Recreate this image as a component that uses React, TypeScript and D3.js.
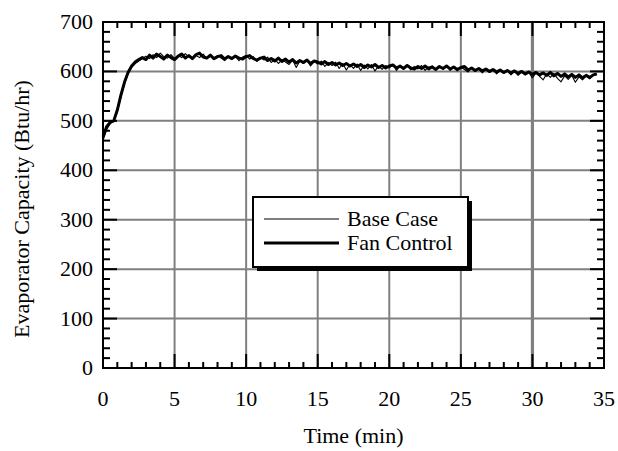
import React from "react";
import * as d3 from "d3";

const STEP = 0.25;
const xTicks = [0, 5, 10, 15, 20, 25, 30, 35];
const yTicks = [0, 100, 200, 300, 400, 500, 600, 700];

const fanControl = [
  468, 488, 497, 500, 522, 552, 578, 598, 611, 619, 624, 628, 624, 633, 627, 635,
  630, 625, 633, 628, 624, 631, 635, 627, 632, 626, 634, 637, 629, 627, 633, 626,
  630, 632, 625, 630, 626, 631, 627, 625, 630, 632, 626, 623, 627, 629, 622, 626,
  621, 627, 620, 625, 619, 624, 617, 622, 618, 623, 616, 621, 619, 615, 620, 614,
  618, 613, 617, 612, 616, 611, 615, 610, 614, 608, 613, 609, 614, 608, 612, 607,
  611, 613, 607, 611, 606, 612, 607, 605, 610, 606, 611, 605, 609, 604, 610, 606,
  611, 605, 609, 604, 608, 610, 603, 607, 602, 606, 601, 605, 600, 604, 599, 603,
  598, 602, 597, 601, 596, 600, 595, 599, 594, 598, 593, 597, 592, 598, 591, 596,
  590, 595, 589, 594, 588, 593, 587, 592, 588, 593, 595
];

const baseCase = [
  460, 482, 494, 502, 518, 548, 575, 596, 608, 616, 621, 626, 631, 626, 634, 628,
  637, 630, 627, 634, 626, 632, 628, 636, 629, 625, 632, 628, 635, 626, 631, 624,
  632, 627, 622, 631, 625, 630, 622, 629, 632, 625, 630, 620, 628, 623, 629, 618,
  625, 616, 624, 619, 614, 623, 608, 621, 616, 622, 611, 620, 615, 621, 610, 618,
  612, 619, 606, 616, 603, 614, 606, 615, 602, 613, 605, 614, 601, 611, 604, 612,
  607, 614, 602, 610, 604, 613, 603, 610, 605, 612, 602, 609, 611, 603, 610, 605,
  612, 602, 608, 601, 609, 604, 599, 607, 600, 605, 597, 604, 598, 603, 595, 602,
  596, 601, 593, 600, 592, 599, 593, 598, 587, 597, 590, 583, 595, 588, 596, 586,
  579, 591, 584, 592, 578, 589, 583, 591, 585, 592, 594
];

const W = 618;
const H = 451;
const left = 103;
const right = 604;
const top = 22;
const bottom = 368;
const FONT = "Liberation Serif, Times New Roman, DejaVu Serif, serif";
const FS = 22;

export default function App() {
  const x = d3.scaleLinear().domain([0, 35]).range([left, right]);
  const y = d3.scaleLinear().domain([0, 700]).range([bottom, top]);
  const line = d3
    .line<number>()
    .x((_, i) => x(i * STEP))
    .y((d) => y(d));

  const xMinor = d3.range(0, 35.01, 1);
  const yMinor = d3.range(0, 700.1, 20);

  const lgL = 253, lgT = 197, lgR = 468, lgB = 267;
  const txt = { fontFamily: FONT, fontSize: FS, fill: "#000" } as React.CSSProperties;

  return (
    <svg
      width={W}
      height={H}
      style={{ position: "absolute", left: 0, top: 0, background: "#fff" }}
    >
      {xTicks.slice(1, -1).map((t) => (
        <line
          key={"gx" + t}
          x1={x(t)}
          x2={x(t)}
          y1={top}
          y2={bottom}
          stroke="#808080"
          strokeWidth={t === 30 ? 3.2 : 2}
        />
      ))}
      {yTicks.slice(1, -1).map((t) => (
        <line
          key={"gy" + t}
          x1={left}
          x2={right}
          y1={y(t)}
          y2={y(t)}
          stroke="#808080"
          strokeWidth={2}
        />
      ))}

      {xMinor.map((t) => {
        const major = t % 5 === 0;
        const len = major ? 14 : 6;
        return (
          <g key={"xt" + t}>
            <line x1={x(t)} x2={x(t)} y1={bottom} y2={bottom - len} stroke="#000" strokeWidth={2} />
            <line x1={x(t)} x2={x(t)} y1={top} y2={top + len} stroke="#000" strokeWidth={2} />
          </g>
        );
      })}
      {yMinor.map((t) => {
        const major = t % 100 === 0;
        const len = major ? 14 : 7;
        return (
          <g key={"yt" + t}>
            <line x1={left} x2={left + len} y1={y(t)} y2={y(t)} stroke="#000" strokeWidth={2} />
            <line x1={right} x2={right - len} y1={y(t)} y2={y(t)} stroke="#000" strokeWidth={2} />
          </g>
        );
      })}

      <path d={line(baseCase) || ""} fill="none" stroke="#000" strokeWidth={1.1} strokeLinejoin="round" />
      <path d={line(fanControl) || ""} fill="none" stroke="#000" strokeWidth={3} strokeLinejoin="round" />

      <rect x={left} y={top} width={right - left} height={bottom - top} fill="none" stroke="#000" strokeWidth={2} />

      {xTicks.map((t) => (
        <text key={"xl" + t} x={x(t)} y={406} textAnchor="middle" style={txt}>
          {t}
        </text>
      ))}
      {yTicks.map((t) => (
        <text key={"yl" + t} x={93} y={y(t) + 7} textAnchor="end" style={txt}>
          {t}
        </text>
      ))}

      <text x={(left + right) / 2} y={443} textAnchor="middle" style={txt}>
        Time (min)
      </text>
      <text
        transform={`translate(29, 209) rotate(-90)`}
        textAnchor="middle"
        style={txt}
      >
        Evaporator Capacity (Btu/hr)
      </text>

      <rect x={lgL + 4} y={lgT + 4} width={lgR - lgL} height={lgB - lgT} fill="#000" />
      <rect x={lgL} y={lgT} width={lgR - lgL} height={lgB - lgT} fill="#fff" stroke="#000" strokeWidth={2} />
      <line x1={264} x2={339} y1={219} y2={219} stroke="#000" strokeWidth={1.2} />
      <line x1={264} x2={339} y1={243} y2={243} stroke="#000" strokeWidth={3} />
      <text x={347} y={226} style={txt}>Base Case</text>
      <text x={347} y={250} style={txt}>Fan Control</text>
    </svg>
  );
}
